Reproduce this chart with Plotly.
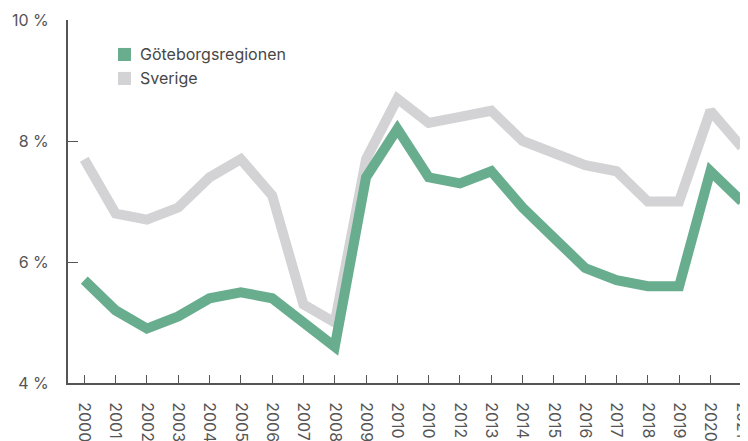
import plotly.graph_objects as go

years = list(range(22))
tick_labels = ["2000", "2001", "2002", "2003", "2004", "2005", "2006", "2007", "2008", "2009",
               "2010", "2010", "2012", "2013", "2014", "2015", "2016", "2017", "2018", "2019",
               "2020", "2021"]
goteborg = [5.7, 5.2, 4.9, 5.1, 5.4, 5.5, 5.4, 5.0, 4.6, 7.4, 8.2, 7.4, 7.3, 7.5, 6.9, 6.4,
            5.9, 5.7, 5.6, 5.6, 7.5, 7.0]
sverige = [7.7, 6.8, 6.7, 6.9, 7.4, 7.7, 7.1, 5.3, 5.0, 7.7, 8.7, 8.3, 8.4, 8.5, 8.0, 7.8,
           7.6, 7.5, 7.0, 7.0, 8.5, 7.9]
y_ticks = [4, 6, 8, 10]
series_names = ["Göteborgsregionen", "Sverige"]

green = "#69ad8f"
grey = "#d3d3d5"
axis_col = "#555555"
font_fam = "Inter, Roboto, sans-serif"

fig = go.Figure()
fig.add_trace(go.Scatter(x=years, y=sverige, mode="lines", name=series_names[1],
                         line=dict(color=grey, width=10), showlegend=False, cliponaxis=False))
fig.add_trace(go.Scatter(x=years, y=goteborg, mode="lines", name=series_names[0],
                         line=dict(color=green, width=10), showlegend=False, cliponaxis=False))

# manual legend (square swatches + labels)
legend_rows = [(series_names[0], green, 0.905), (series_names[1], grey, 0.839)]
for name, col, yc in legend_rows:
    fig.add_shape(type="rect", xref="paper", yref="paper",
                  x0=0.0735, x1=0.0926, y0=yc - 0.018, y1=yc + 0.018,
                  fillcolor=col, line=dict(width=0))
    fig.add_annotation(x=0.103, y=yc, xref="paper", yref="paper", text=name,
                       showarrow=False, xanchor="left", yanchor="middle",
                       font=dict(size=16, color="#474747", family=font_fam))

fig.update_layout(
    width=740, height=433,
    margin=dict(l=60, r=0, t=12, b=58),
    plot_bgcolor="white", paper_bgcolor="white",
    font=dict(family=font_fam, size=16, color=axis_col),
    showlegend=False,
    xaxis=dict(range=[-0.52, 21.2], tickmode="array", tickvals=years, ticktext=tick_labels,
               tickangle=90, ticks="inside", ticklen=8, tickcolor=axis_col, tickwidth=1,
               showline=True, linecolor=axis_col, linewidth=2, showgrid=False, zeroline=False,
               automargin=False, ticklabelstandoff=14, ticklabeloverflow="allow",
               tickfont=dict(size=16)),
    yaxis=dict(range=[4, 10], tickmode="array", tickvals=y_ticks,
               ticktext=[f"{v} %" for v in y_ticks],
               ticks="inside", ticklen=10, tickcolor=axis_col, tickwidth=1,
               showline=True, linecolor=axis_col, linewidth=2, showgrid=False, zeroline=False,
               automargin=False, ticklabelstandoff=14, ticklabeloverflow="allow",
               tickfont=dict(size=16)),
)

fig.write_html("out.html")
